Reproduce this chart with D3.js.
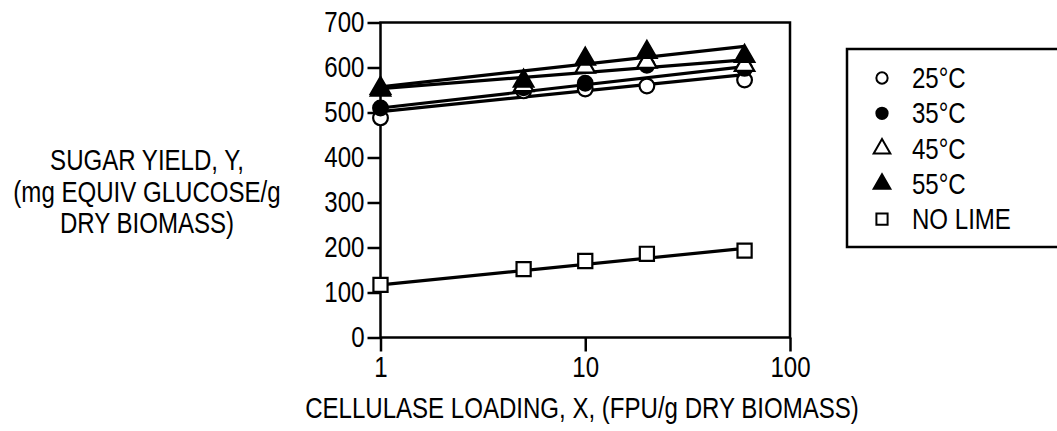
<!DOCTYPE html>
<html>
<head>
<meta charset="utf-8">
<script src="https://cdn.jsdelivr.net/npm/d3@7"></script>
<style>
  body { margin: 0; background: #fff; }
  text { font-family: "Liberation Sans Narrow", "Arial Narrow", "Liberation Sans", sans-serif; fill: #000; }
</style>
</head>
<body>
<script>
// values
const loadings = [1, 5, 10, 20, 60];
const yield25 = [488, 548, 552, 559, 572];
const yield35 = [510, 555, 565, 605, 598];
const yield45 = [550, 560, 601, 612, 605];
const yield55 = [554, 570, 619, 634, 625];
const yieldNoLime = [117, 152, 170, 186, 193];

// fitted lines, value at x=1 and x=60
const fitX = [1, 60];
const fit25 = [502, 584];
const fit35 = [510, 602];
const fit45 = [553, 617];
const fit55 = [557, 647];
const fitNoLime = [117, 198];

const yTicks = [0, 100, 200, 300, 400, 500, 600, 700];
const xTicks = [1, 10, 100];
const legendLabels = ["25°C", "35°C", "45°C", "55°C", "NO LIME"];

const series = [
  { name: legendLabels[0], vals: yield25, fit: fit25, sym: "circle", filled: false },
  { name: legendLabels[1], vals: yield35, fit: fit35, sym: "circle", filled: true },
  { name: legendLabels[2], vals: yield45, fit: fit45, sym: "triangle", filled: false },
  { name: legendLabels[3], vals: yield55, fit: fit55, sym: "triangle", filled: true },
  { name: legendLabels[4], vals: yieldNoLime, fit: fitNoLime, sym: "square", filled: false },
];

const W = 1057, H = 431;
const FS = 29;      // font size
const SX = 0.83;    // horizontal squeeze, the font is a narrow one
const svg = d3.select("body").append("svg").attr("width", W).attr("height", H);

// narrow text helper
function label(px, py, str, anchor) {
  return svg.append("text")
    .attr("transform", `translate(${px},${py}) scale(${SX},1)`)
    .attr("text-anchor", anchor || "start")
    .style("font-size", FS + "px")
    .text(str);
}

const x = d3.scaleLog().domain([1, 100]).range([380.5, 790]);
const y = d3.scaleLinear().domain([0, 700]).range([337.5, 22.5]);

// frame
svg.append("rect")
  .attr("x", x(1)).attr("y", y(700))
  .attr("width", x(100) - x(1)).attr("height", y(0) - y(700))
  .attr("fill", "none").attr("stroke", "#000").attr("stroke-width", 2.5);

const yAxis = svg.append("g")
  .attr("transform", `translate(${x(1)},0)`)
  .call(d3.axisLeft(y).tickValues(yTicks).tickSize(13).tickPadding(3));
const xAxis = svg.append("g")
  .attr("transform", `translate(0,${y(0)})`)
  .call(d3.axisBottom(x).tickValues(xTicks).tickFormat(d3.format("d")).tickSize(14).tickPadding(5));
[yAxis, xAxis].forEach(g => {
  g.select(".domain").remove();
  g.selectAll("line").attr("stroke", "#000").attr("stroke-width", 2.5);
  g.selectAll("text").style("font-size", FS + "px").attr("fill", "#000");
});
yAxis.selectAll("text")
  .attr("x", -16 / SX)
  .attr("transform", `scale(${SX},1)`);
xAxis.selectAll("text").attr("transform", `scale(${SX},1)`);

// axis titles
label(582, 418, "CELLULASE LOADING, X, (FPU/g DRY BIOMASS)", "middle");

const yTitle = ["SUGAR YIELD, Y,", "(mg EQUIV GLUCOSE/g", "DRY BIOMASS)"];
yTitle.forEach((t, i) => label(147, 170 + i * 31.5, t, "middle"));

// fitted lines
const line = d3.line().x(d => x(d[0])).y(d => y(d[1]));
series.forEach(s => {
  svg.append("path")
    .datum(fitX.map((v, i) => [v, s.fit[i]]))
    .attr("d", line)
    .attr("fill", "none").attr("stroke", "#000").attr("stroke-width", 3.2);
});

const symSize = { circle: 170, triangle: 165, square: 200 };
const symType = { circle: d3.symbolCircle, triangle: d3.symbolTriangle, square: d3.symbolSquare };

series.forEach(s => {
  svg.append("g").selectAll("path")
    .data(loadings.map((v, i) => [v, s.vals[i]]))
    .join("path")
    .attr("transform", d => `translate(${x(d[0])},${y(d[1])})`)
    .attr("d", d3.symbol().type(symType[s.sym]).size(symSize[s.sym]))
    .attr("fill", s.filled ? "#000" : "#fff")
    .attr("stroke", "#000").attr("stroke-width", 2.2);
});

// legend
svg.append("rect")
  .attr("x", 847).attr("y", 49).attr("width", 230).attr("height", 198)
  .attr("fill", "#fff").attr("stroke", "#000").attr("stroke-width", 2.5);

const legSize = { circle: 100, triangle: 120, square: 125 };
series.forEach((s, i) => {
  const by = 88 + i * 35.3;
  svg.append("path")
    .attr("transform", `translate(882,${by - 10})`)
    .attr("d", d3.symbol().type(symType[s.sym]).size(legSize[s.sym]))
    .attr("fill", s.filled ? "#000" : "#fff")
    .attr("stroke", "#000").attr("stroke-width", 2);
  label(912, by, s.name);
});
</script>
</body>
</html>
